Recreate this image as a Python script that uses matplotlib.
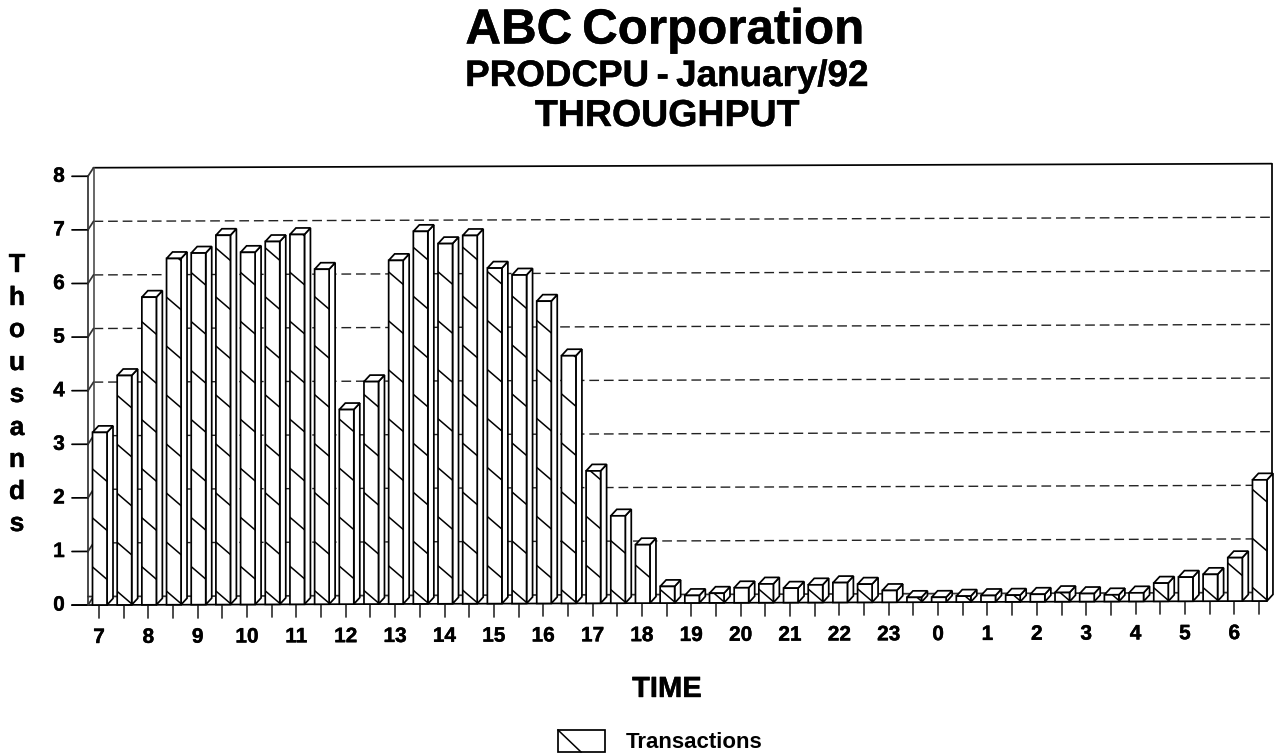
import matplotlib
matplotlib.use("Agg")
import matplotlib.pyplot as plt
import matplotlib.patheffects as pe
from matplotlib.patches import Polygon, Rectangle
from matplotlib.transforms import Affine2D
import numpy as np

plt.rcParams['font.family'] = ['Liberation Sans', 'DejaVu Sans']

hour_labels = ['7', '8', '9', '10', '11', '12', '13', '14', '15', '16', '17', '18',
               '19', '20', '21', '22', '23', '0', '1', '2', '3', '4', '5', '6']
transactions = [3.22, 4.28, 5.74, 6.46, 6.56, 6.89, 6.57, 6.77, 6.90, 6.25,
                3.63, 4.15, 6.41, 6.95, 6.72, 6.87, 6.26, 6.13, 5.64, 4.62,
                2.47, 1.63, 1.09, 0.31, 0.14, 0.18, 0.28, 0.35, 0.27, 0.33,
                0.37, 0.34, 0.22, 0.09, 0.09, 0.11, 0.12, 0.125, 0.14, 0.17,
                0.15, 0.125, 0.16, 0.34, 0.45, 0.50, 0.81, 2.26]
y_ticks = [0, 1, 2, 3, 4, 5, 6, 7, 8]
ylabel_letters = list('Thousands')
ylabel_pix = [265, 298, 330, 363, 395, 428, 460, 492, 524]

W, H = 1275, 755
fig = plt.figure(figsize=(W / 100, H / 100), dpi=100)

px_bar = 24.68
px_unit = 53.6
ax = fig.add_axes([0, 0, 1, 1])
ax.set_xlim(-99 / px_bar, (W - 99) / px_bar)
ax.set_ylim(-(H - 605) / px_unit, 605 / px_unit)
ax.axis('off')

# the scan is a little rotated, baseline climbs about 4px across the chart
tilt = (4 / 1160 * px_bar) / px_unit
tr = Affine2D.from_values(1, tilt, 0, 1, 0, 0) + ax.transData

bar_w = 14.5 / px_bar
dep_x = 6 / px_bar
dep_y = 6.5 / px_unit
wall_x = 5.5 / px_bar
wall_y = 8.5 / px_unit
x_left = -11 / px_bar
x_right = 47 + 0.3
lw = 1.25
heavy = [pe.withStroke(linewidth=0.3, foreground='black')]


def line(xs, ys, **kw):
    kw.setdefault('color', 'black')
    kw.setdefault('lw', lw)
    ax.plot(xs, ys, transform=tr, clip_on=False, solid_capstyle='round', **kw)


# back wall and floor
wall_l = x_left + wall_x
wall_r = x_right + wall_x
for v in y_ticks[1:-1]:
    line([wall_l, wall_r], [v + wall_y] * 2, ls=(0, (7, 3.5)), lw=1.0, color='#222222')
line([wall_l, wall_r], [8 + wall_y] * 2)
line([wall_l, wall_l], [wall_y, 8 + wall_y], color='#555555')
line([wall_r, wall_r], [wall_y, 8 + wall_y])
line([x_left, wall_r], [wall_y, wall_y], color='#333333')
line([x_left, x_left], [0, 8], color='#333333')
line([x_right, wall_r], [0, wall_y])
line([-27 / px_bar, x_right], [0, 0])

# y ticks with the small step back to the wall
for v in y_ticks:
    line([-27 / px_bar, x_left], [v, v])
    line([x_left, wall_l], [v, v + wall_y], color='#333333')
    ax.text(-40 / px_bar, v + tilt * -40 / px_bar, str(v), transform=ax.transData,
            ha='center', va='center', fontsize=15, fontweight='bold', path_effects=heavy)

# x ticks every half hour, label on the hour
for i in range(len(transactions)):
    line([i, i], [0, -13 / px_unit], color='#333333')
for i, lab in enumerate(hour_labels):
    ax.text(2 * i, -38 / px_unit + tilt * 2 * i, lab, transform=ax.transData,
            ha='center', va='baseline', fontsize=15, fontweight='bold', path_effects=heavy)

# bars
hatch_step = 49 / px_unit
hatch_drop = 12.5 / px_unit
for i, v in enumerate(transactions):
    x0 = i - 6.5 / px_bar
    x1 = x0 + bar_w
    front = Rectangle((x0, 0), bar_w, v, fc='white', ec='black', lw=lw,
                      transform=tr, clip_on=False, zorder=3)
    top = Polygon([(x0, v), (x0 + dep_x, v + dep_y), (x1 + dep_x, v + dep_y), (x1, v)],
                  fc='white', ec='black', lw=lw, transform=tr, clip_on=False, zorder=3)
    side = Polygon([(x1, 0), (x1 + dep_x, dep_y), (x1 + dep_x, v + dep_y), (x1, v)],
                   fc='white', ec='black', lw=lw, transform=tr, clip_on=False, zorder=3)
    ax.add_patch(side)
    ax.add_patch(top)
    ax.add_patch(front)
    start = (0.71 - i * hatch_step / 2) % hatch_step
    for k in range(int(v / hatch_step) + 2):
        y_s = start + k * hatch_step
        hl, = ax.plot([x0, x1], [y_s, y_s - hatch_drop], color='black', lw=1.1,
                      transform=tr, zorder=3.5)
        hl.set_clip_path(front)

# titles
fig.text(664.5 / W, 1 - 43.5 / H, 'ABC\u2009Corporation', ha='center', va='baseline',
         fontsize=35.5, fontweight='bold', path_effects=heavy)
fig.text(666.5 / W, 1 - 86 / H, 'PRODCPU\u2009-\u2009January/92', ha='center', va='baseline',
         fontsize=26.5, fontweight='bold', path_effects=heavy)
fig.text(667 / W, 1 - 126 / H, 'THROUGHPUT', ha='center', va='baseline',
         fontsize=27, fontweight='bold', path_effects=heavy)
fig.text(667 / W, 1 - 697 / H, 'TIME', ha='center', va='baseline',
         fontsize=21, fontweight='bold', path_effects=heavy)
for letter, py in zip(ylabel_letters, ylabel_pix):
    fig.text(17 / W, 1 - py / H, letter, ha='center', va='center',
             fontsize=19, fontweight='bold', path_effects=heavy)

# legend
fig.add_artist(Rectangle((558 / W, 1 - 752 / H), 47 / W, 22 / H, fc='white', ec='black',
                         lw=lw, transform=fig.transFigure))
fig.add_artist(plt.Line2D([558 / W, 581 / W], [1 - 730 / H, 1 - 752 / H], color='black',
                          lw=1.1, transform=fig.transFigure))
fig.text(626 / W, 1 - 747.5 / H, 'Transactions', ha='left', va='baseline',
         fontsize=16, fontweight='bold')

fig.savefig('out.png', dpi=100)
